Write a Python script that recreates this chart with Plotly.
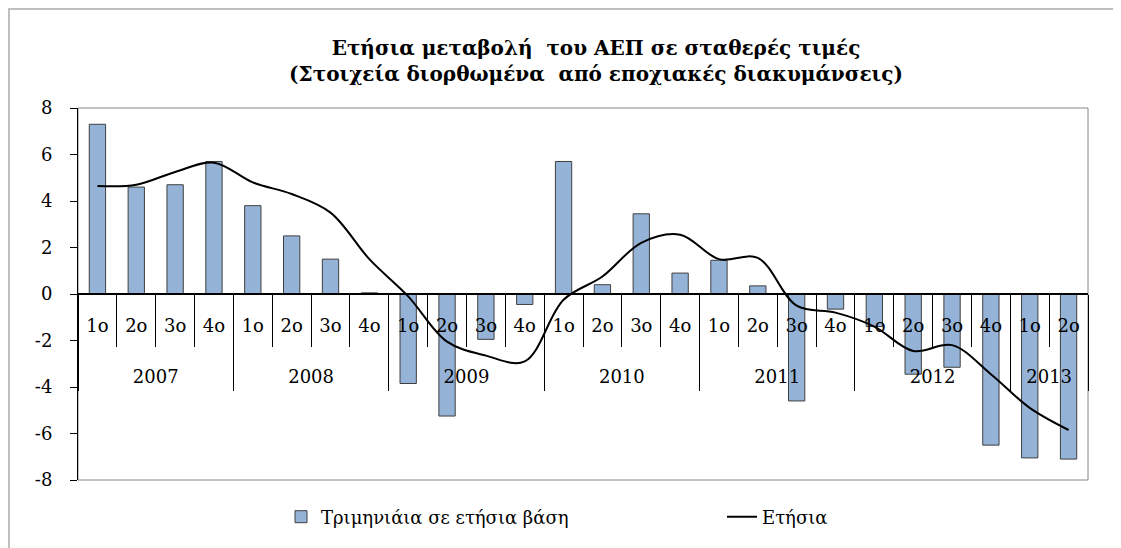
import plotly.graph_objects as go

years = ["2007"]*4 + ["2008"]*4 + ["2009"]*4 + ["2010"]*4 + ["2011"]*4 + ["2012"]*4 + ["2013"]*2
quarters = ["1ο", "2ο", "3ο", "4ο"]*6 + ["1ο", "2ο"]

quarterly = [7.3, 4.6, 4.7, 5.7,
             3.8, 2.5, 1.5, 0.05,
             -3.85, -5.25, -1.95, -0.45,
             5.7, 0.4, 3.45, 0.9,
             1.45, 0.35, -4.6, -0.65,
             -1.4, -3.45, -3.15, -6.5,
             -7.05, -7.1]

annual = [4.65, 4.7, 5.25, 5.65,
          4.8, 4.3, 3.5, 1.5,
          -0.1, -2.05, -2.65, -2.9,
          -0.25, 0.75, 2.2, 2.55,
          1.5, 1.55, -0.5, -0.8,
          -1.4, -2.45, -2.2, -3.45,
          -4.9, -5.85]

y_ticks = [-8, -6, -4, -2, 0, 2, 4, 6, 8]
y_tick_labels = ["-8", "-6", "-4", "-2", "0", "2", "4", "6", "8"]

title_text = "<b>Ετήσια μεταβολή  του ΑΕΠ σε σταθερές τιμές<br>(Στοιχεία διορθωμένα  από εποχιακές διακυμάνσεις)</b>"
bar_name = "Τριμηνιάια σε ετήσια βάση"
line_name = "Ετήσια"

FONT = "DejaVu Serif"
FS = 18

cats = [f"{y}-{q}-{i}" for i, (y, q) in enumerate(zip(years, quarters))]
n = len(cats)

# year groups derived from the years list
groups = []
for i, y in enumerate(years):
    if not groups or groups[-1][0] != y:
        groups.append([y, i, i])
    else:
        groups[-1][2] = i
year_centers = [(g[1] + g[2]) / 2 for g in groups]
year_labels = [g[0] for g in groups]
year_bounds = [g[1] - 0.5 for g in groups] + [n - 0.5]

# page has an 8px body margin: work in figure pixels = page pixels - 8
OFF = 8
W, H = 1121 - OFF, 548 - OFF
PL, PR, PT, PB = 78 - OFF, 1088 - OFF, 108 - OFF, 480 - OFF
L, R, T, B = PL, W - PR, PT, H - PB
pw, ph = PR - PL, PB - PT


def px(xpage):
    return (xpage - OFF - PL) / pw


def py(ypage):
    return (PB - (ypage - OFF)) / ph


fig = go.Figure()
fig.add_trace(go.Bar(
    x=cats, y=quarterly, name=bar_name, legend="legend",
    marker=dict(color="#95B3D7", line=dict(color="#3F3F3F", width=1)),
))
fig.add_trace(go.Scatter(
    x=cats, y=annual, name=line_name, mode="lines", legend="legend2",
    line=dict(color="black", width=2, shape="spline", smoothing=1),
))
# invisible helper trace so the year axis is active
fig.add_trace(go.Scatter(x=[year_centers[0]], y=[0], xaxis="x2", mode="markers",
                         marker=dict(opacity=0), showlegend=False, hoverinfo="skip"))

leg_common = dict(orientation="h", xanchor="left", yanchor="middle", y=py(517),
                  font=dict(family=FONT, size=FS, color="black"), itemwidth=30,
                  bgcolor="rgba(0,0,0,0)")

fig.update_layout(
    width=W, height=H,
    margin=dict(l=L, r=R, t=T, b=B, autoexpand=False),
    paper_bgcolor="white", plot_bgcolor="white",
    font=dict(family=FONT, size=FS, color="black"),
    title=dict(text=title_text, x=(596 - OFF) / W, xanchor="center",
               y=1 - 47 / H, yanchor="middle",
               font=dict(family=FONT, size=20, color="black")),
    bargap=0.58,
    showlegend=True,
    legend=dict(x=px(281), **leg_common),
    legend2=dict(x=px(722), **leg_common),
    xaxis=dict(type="category", anchor="free", position=0.5, range=[-0.5, n - 0.5],
               showline=True, linecolor="black", linewidth=2,
               tickmode="array", tickvals=cats, ticktext=quarters,
               tickson="boundaries",
               ticks="outside", ticklen=52, tickcolor="black", tickwidth=1,
               ticklabelstandoff=15,
               showgrid=False, tickfont=dict(family=FONT, size=FS)),
    xaxis2=dict(overlaying="x", anchor="free", position=0.5, range=[-0.5, n - 0.5],
                showline=False, showgrid=False, zeroline=False,
                tickmode="array", tickvals=year_centers, ticktext=year_labels,
                ticks="", ticklabelstandoff=70,
                minor=dict(tickmode="array", tickvals=year_bounds, ticks="outside",
                           ticklen=96, tickcolor="black", tickwidth=1, showgrid=False),
                tickfont=dict(family=FONT, size=FS)),
    yaxis=dict(range=[-8, 8], tickmode="array", tickvals=y_ticks, ticktext=y_tick_labels,
               showline=True, linecolor="black", linewidth=1,
               ticks="outside", ticklen=7, tickcolor="black", showgrid=False,
               zeroline=False, tickfont=dict(family=FONT, size=FS), ticklabelstandoff=14),
    shapes=[
        dict(type="rect", xref="paper", yref="paper", x0=0, x1=1, y0=0, y1=1,
             line=dict(color="#868686", width=1), layer="below"),
        dict(type="rect", xref="paper", yref="paper",
             x0=(1 - PL) / pw, x1=(W + 20 - PL) / pw,
             y0=(PB - (H + 20)) / ph, y1=(PB - 1) / ph,
             line=dict(color="#BFBFBF", width=2), layer="below"),
    ],
)

fig.write_html("out.html")
